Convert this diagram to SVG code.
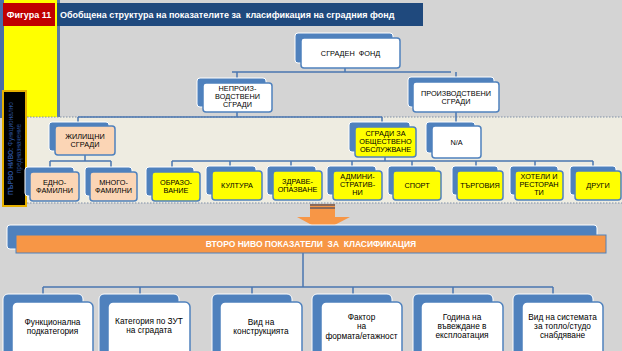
<svg xmlns="http://www.w3.org/2000/svg" width="622" height="351" viewBox="0 0 622 351">
<defs>
<style>
.bk{fill:#4f81bd;stroke:#ffffff;stroke-width:1}
.fr{stroke:#4f81bd;stroke-width:1.5}
.w{fill:#ffffff}.y{fill:#ffff00}.p{fill:#fbd5b5}
.t{font-family:"Liberation Sans",Arial,sans-serif;font-size:7.3px;fill:#000;text-anchor:middle;white-space:pre}
.tb{font-family:"Liberation Sans",Arial,sans-serif;font-size:8.3px;fill:#000;text-anchor:middle}
.c{fill:none;stroke:#4a76b0;stroke-width:1.5}
.dot{fill:none;stroke:#7f8fa6;stroke-width:1;stroke-dasharray:1.5 1.5}
.pre{white-space:pre}
</style>
</defs>
<rect x="0" y="0" width="622" height="351" fill="#d4d4d4"/>
<!-- left yellow panel -->
<rect x="0" y="0" width="4" height="118" fill="#4a6ea8"/>
<rect x="4" y="0" width="53" height="118" fill="#ffff00"/>
<rect x="57" y="0" width="3" height="118" fill="#5a7aa8"/>
<!-- band -->
<rect x="27" y="117" width="595" height="86" fill="#eeece1"/>
<line class="dot" x1="27" y1="117" x2="622" y2="117"/>
<line class="dot" x1="27" y1="203" x2="622" y2="203"/>
<!-- title -->
<g id="title">
<rect x="3" y="3" width="52" height="23" fill="#c00000"/>
<text x="29" y="18" font-family="Liberation Sans,Arial,sans-serif" font-size="9" font-weight="bold" fill="#fff" text-anchor="middle">Фигура 11</text>
<rect x="57" y="3" width="366" height="23" fill="#1f497d"/>
<text class="pre" x="60" y="18" font-family="Liberation Sans,Arial,sans-serif" font-size="9" font-weight="bold" fill="#fff">Обобщена структура на показателите за  класификация на сградния фонд</text>
</g>
<!-- vertical label -->
<g id="level1-label">
<rect x="3" y="91" width="23" height="115" fill="#000" stroke="#e6b000" stroke-width="2"/>
<text transform="translate(13,148.5) rotate(-90)" font-family="Liberation Sans,Arial,sans-serif" font-size="6.5" fill="#2a4f9a" text-anchor="middle"><tspan font-weight="bold">ПЪРВО НИВО:</tspan> Функционално</text>
<text transform="translate(21,148.5) rotate(-90)" font-family="Liberation Sans,Arial,sans-serif" font-size="6.5" fill="#2a4f9a" text-anchor="middle">предназначение</text>
</g>
<!-- connectors -->
<g id="connectors">
<path class="c" d="M345 68V72M232 72H451M237 72V83M456 72V82"/>
<path class="c" d="M237 112V117M78 117H382M78 117V126M382 117V127M456 112V126"/>
<path class="c" d="M85 155V161M50 161H111M50 161V172M111 161V172"/>
<path class="c" d="M385 157V161M172 161H593M172 161V172M230 161V171M291 161V171M352 161V171M412 161V171M476 161V171M535 161V171M593 161V171"/>
<path class="c" d="M303 253V287M43 287H553M43 287V302M140 287V302M252 287V302M353 287V302M453 287V302M553 287V302"/>
</g>
<!-- arrow -->
<g id="arrow">
<path d="M310 204H335V217H350L323 231L297 217H310Z" fill="#f79646"/>
<line x1="310" y1="205" x2="335" y2="205" stroke="#1f3f6f" stroke-width="1"/>
<line x1="310" y1="208" x2="335" y2="208" stroke="#1f3f6f" stroke-width="1"/>
</g>
<!-- level 2 bar -->
<g id="level2">
<rect class="bk" x="7" y="225" width="590" height="24" rx="3"/>
<rect x="16" y="235" width="590" height="18" fill="#f79646" stroke="#4f81bd" stroke-width="1"/>
<text class="pre" x="311" y="247" font-family="Liberation Sans,Arial,sans-serif" font-size="8.5" font-weight="bold" fill="#fff" text-anchor="middle">ВТОРО НИВО ПОКАЗАТЕЛИ  ЗА  КЛАСИФИКАЦИЯ</text>
</g>
<g id="fond"><rect class="bk" x="295" y="33" width="98" height="30" rx="3"/><rect class="fr w" x="301" y="38" width="99" height="30" rx="3"/><text class="t" x="350.5" y="55.5">СГРАДЕН  ФОНД</text></g>
<g id="neproizvodstveni"><rect class="bk" x="197" y="78" width="69" height="29" rx="3"/><rect class="fr w" x="203" y="83" width="69" height="29" rx="3"/><text class="t" x="237.5" y="91">НЕПРОИЗ-</text><text class="t" x="237.5" y="99">ВОДСТВЕНИ</text><text class="t" x="237.5" y="107">СГРАДИ</text></g>
<g id="proizvodstveni"><rect class="bk" x="408" y="77" width="86" height="30" rx="3"/><rect class="fr w" x="413" y="82" width="86" height="30" rx="3"/><text class="t" x="456" y="95.5">ПРОИЗВОДСТВЕНИ</text><text class="t" x="456" y="103.5">СГРАДИ</text></g>
<g id="zhilishtni"><rect class="bk" x="49" y="122" width="60" height="29" rx="3"/><rect class="fr p" x="55" y="126" width="60" height="29" rx="3"/><text class="t" x="85" y="139">ЖИЛИЩНИ</text><text class="t" x="85" y="147">СГРАДИ</text></g>
<g id="obsluzhvane"><rect class="bk" x="349" y="122" width="61" height="30" rx="3"/><rect class="fr y" x="355" y="127" width="61" height="30" rx="3"/><text class="t" x="385.5" y="136">СГРАДИ ЗА</text><text class="t" x="385.5" y="144">ОБЩЕСТВЕНО</text><text class="t" x="385.5" y="152">ОБСЛУЖВАНЕ</text></g>
<g id="na"><rect class="bk" x="426" y="122" width="49" height="31" rx="3"/><rect class="fr w" x="432" y="126" width="49" height="32" rx="3"/><text class="t" x="456.5" y="144.5">N/A</text></g>
<g id="ednofamilni"><rect class="bk" x="25" y="167" width="49" height="29" rx="3"/><rect class="fr p" x="30" y="172" width="49" height="29" rx="3"/><text class="t" x="54.5" y="185">ЕДНО-</text><text class="t" x="54.5" y="193">ФАМИЛНИ</text></g>
<g id="mnogofamilni"><rect class="bk" x="85" y="167" width="47" height="29" rx="3"/><rect class="fr p" x="90" y="172" width="47" height="29" rx="3"/><text class="t" x="113.5" y="185">МНОГО-</text><text class="t" x="113.5" y="193">ФАМИЛНИ</text></g>
<g id="obrazovanie"><rect class="bk" x="146" y="167" width="48" height="29" rx="3"/><rect class="fr y" x="152" y="172" width="48" height="29" rx="3"/><text class="t" x="176" y="185">ОБРАЗО-</text><text class="t" x="176" y="193">ВАНИЕ</text></g>
<g id="kultura"><rect class="bk" x="206" y="166" width="50" height="29" rx="3"/><rect class="fr y" x="212" y="171" width="50" height="29" rx="3"/><text class="t" x="237" y="188">КУЛТУРА</text></g>
<g id="zdraveopazvane"><rect class="bk" x="267" y="166" width="49" height="29" rx="3"/><rect class="fr y" x="273" y="171" width="49" height="29" rx="3"/><text class="t" x="297.5" y="184">ЗДРАВЕ-</text><text class="t" x="297.5" y="192">ОПАЗВАНЕ</text></g>
<g id="administrativni"><rect class="bk" x="327" y="166" width="49" height="29" rx="3"/><rect class="fr y" x="333" y="171" width="49" height="29" rx="3"/><text class="t" x="357.5" y="179">АДМИНИ-</text><text class="t" x="357.5" y="187">СТРАТИВ-</text><text class="t" x="357.5" y="195">НИ</text></g>
<g id="sport"><rect class="bk" x="388" y="166" width="48" height="29" rx="3"/><rect class="fr y" x="393" y="171" width="48" height="29" rx="3"/><text class="t" x="417" y="188">СПОРТ</text></g>
<g id="targoviya"><rect class="bk" x="452" y="166" width="46" height="29" rx="3"/><rect class="fr y" x="457" y="171" width="46" height="29" rx="3"/><text class="t" x="480" y="188">ТЪРГОВИЯ</text></g>
<g id="hoteli"><rect class="bk" x="510" y="166" width="48" height="29" rx="3"/><rect class="fr y" x="515" y="171" width="48" height="29" rx="3"/><text class="t" x="539" y="179">ХОТЕЛИ И</text><text class="t" x="539" y="187">РЕСТОРАН</text><text class="t" x="539" y="195">ТИ</text></g>
<g id="drugi"><rect class="bk" x="570" y="166" width="46" height="29" rx="3"/><rect class="fr y" x="575" y="171" width="46" height="29" rx="3"/><text class="t" x="598" y="188">ДРУГИ</text></g>
<g id="funkcionalna"><rect class="bk" x="3" y="294" width="80" height="70" rx="5"/><rect class="fr w" x="12" y="302" width="81" height="70" rx="5"/><text class="tb" x="52.5" y="325">Функционална</text><text class="tb" x="52.5" y="334">подкатегория</text></g>
<g id="kategoriya"><rect class="bk" x="99" y="294" width="80" height="70" rx="5"/><rect class="fr w" x="108" y="302" width="82" height="70" rx="5"/><text class="tb" x="149" y="324">Категория по ЗУТ</text><text class="tb" x="149" y="333">на сградата</text></g>
<g id="konstrukciya"><rect class="bk" x="212" y="294" width="80" height="70" rx="5"/><rect class="fr w" x="220" y="302" width="82" height="70" rx="5"/><text class="tb" x="261" y="325">Вид на</text><text class="tb" x="261" y="334">конструкцията</text></g>
<g id="faktor"><rect class="bk" x="312" y="294" width="80" height="70" rx="5"/><rect class="fr w" x="321" y="302" width="81" height="70" rx="5"/><text class="tb" x="361.5" y="319.5">Фактор</text><text class="tb" x="361.5" y="329">на</text><text class="tb" x="361.5" y="338.5">формата/етажност</text></g>
<g id="godina"><rect class="bk" x="413" y="294" width="80" height="70" rx="5"/><rect class="fr w" x="421" y="302" width="82" height="70" rx="5"/><text class="tb" x="462" y="320">Година на</text><text class="tb" x="462" y="329">въвеждане в</text><text class="tb" x="462" y="338">експлоатация</text></g>
<g id="sistema"><rect class="bk" x="513" y="294" width="80" height="70" rx="5"/><rect class="fr w" x="522" y="302" width="81" height="70" rx="5"/><text class="tb" x="562.5" y="320">Вид на системата</text><text class="tb" x="562.5" y="329">за топло/студо</text><text class="tb" x="562.5" y="338">снабдяване</text></g>
</svg>
